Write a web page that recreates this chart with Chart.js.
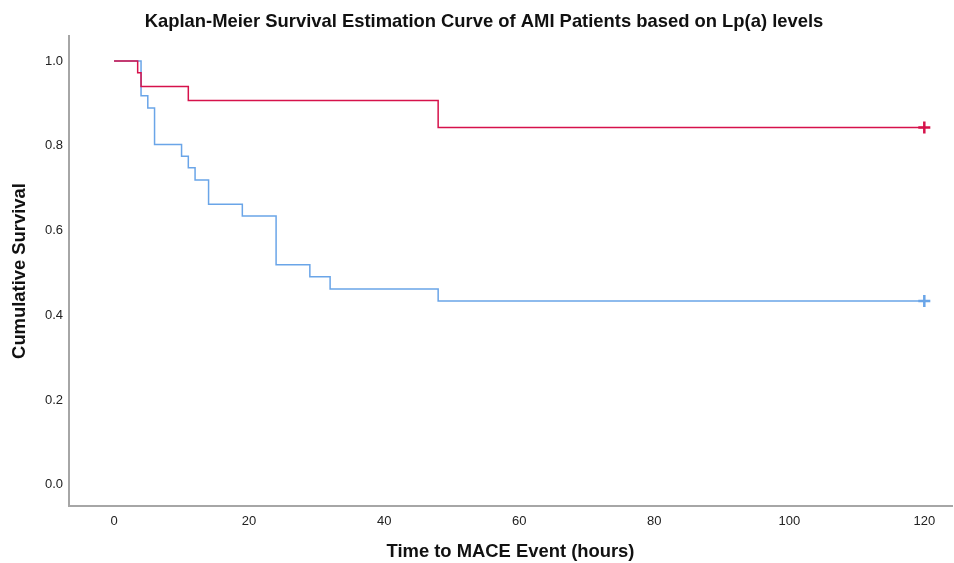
<!DOCTYPE html>
<html>
<head>
<meta charset="utf-8">
<script src="https://cdn.jsdelivr.net/npm/chart.js@4.4.1/dist/chart.umd.min.js"></script>
<style>
  html, body { margin: 0; padding: 0; background: #fff; }
  #wrap { width: 954px; height: 563px; }
</style>
</head>
<body>
<div id="wrap"><canvas id="kmChart"></canvas></div>
<script>
// Kaplan-Meier steps (time in hours, survival)
const highTimes = [0, 4, 5, 6, 10, 11, 12, 14, 19, 24, 29, 32, 48, 120];
const highSurv  = [1.0, 0.918, 0.889, 0.803, 0.775, 0.748, 0.719, 0.662, 0.634, 0.519, 0.491, 0.462, 0.434, 0.434];
const lowTimes  = [0, 3.5, 4, 11, 48, 120];
const lowSurv   = [1.0, 0.972, 0.940, 0.907, 0.843, 0.843];
const xTicks = [0, 20, 40, 60, 80, 100, 120];
const yTicks = [0.0, 0.2, 0.4, 0.6, 0.8, 1.0];

function pts(t, s) {
  return t.map((v, i) => ({ x: v, y: s[i] }));
}
// censor mark only at the last point
function censor(n) {
  return Array.from({ length: n }, (_, i) => (i === n - 1 ? 6 : 0));
}

const titlePlugin = {
  id: 'mainTitle',
  afterDraw(chart) {
    const c = chart.ctx;
    c.save();
    c.font = 'bold 18.4px "Liberation Sans", Arial, sans-serif';
    c.fillStyle = '#111';
    c.textAlign = 'center';
    c.textBaseline = 'middle';
    c.fillText('Kaplan-Meier Survival Estimation Curve of AMI Patients based on Lp(a) levels', 484, 22);
    c.restore();
  }
};

const ctx = document.getElementById('kmChart');

// red first so it sits on top where the curves overlap
new Chart(ctx, {
  type: 'line',
  data: {
    datasets: [{
      label: 'Low Lp(a)',
      data: pts(lowTimes, lowSurv),
      borderColor: '#d6124b',
      backgroundColor: '#d6124b',
      borderWidth: 1.5,
      stepped: 'before',
      pointStyle: 'cross',
      pointRadius: censor(lowTimes.length),
      pointBorderWidth: 2.5,
      fill: false
    }, {
      label: 'High Lp(a)',
      data: pts(highTimes, highSurv),
      borderColor: '#6aa5e8',
      backgroundColor: '#6aa5e8',
      borderWidth: 1.5,
      stepped: 'before',
      pointStyle: 'cross',
      pointRadius: censor(highTimes.length),
      pointBorderWidth: 2.5,
      fill: false
    }]
  },
  options: {
    responsive: true,
    maintainAspectRatio: false,
    animation: false,
    layout: { autoPadding: false, padding: { top: 36, right: 2, left: 0, bottom: 0 } },
    plugins: {
      legend: { display: false },
      tooltip: { enabled: false }
    },
    scales: {
      x: {
        type: 'linear',
        min: -6.67,
        max: 124.1,
        afterBuildTicks: (s) => { s.ticks = xTicks.map(v => ({ value: v })); },
        afterFit: (s) => { s.height = 57; },
        grid: { display: false, drawTicks: false },
        border: { display: true, color: '#a6a6a6', width: 2 },
        ticks: {
          color: '#222',
          padding: 8,
          maxRotation: 0,
          font: { family: '"Liberation Sans", Arial, sans-serif', size: 13 }
        },
        title: {
          display: true,
          text: 'Time to MACE Event (hours)',
          color: '#111',
          padding: { top: 0, bottom: 0 },
          font: { family: '"Liberation Sans", Arial, sans-serif', size: 18.4, weight: 'bold' }
        }
      },
      y: {
        type: 'linear',
        min: -0.05,
        max: 1.059,
        afterBuildTicks: (s) => { s.ticks = yTicks.map(v => ({ value: v })); },
        afterFit: (s) => { s.width = 69; },
        grid: { display: false, drawTicks: false },
        border: { display: true, color: '#a6a6a6', width: 2 },
        ticks: {
          color: '#222',
          padding: 6,
          callback: (v) => Number(v).toFixed(1),
          font: { family: '"Liberation Sans", Arial, sans-serif', size: 13 }
        },
        title: {
          display: true,
          text: 'Cumulative Survival',
          color: '#111',
          padding: { top: 9, bottom: 0 },
          font: { family: '"Liberation Sans", Arial, sans-serif', size: 18.4, weight: 'bold' }
        }
      }
    }
  },
  plugins: [titlePlugin]
});
</script>
</body>
</html>
